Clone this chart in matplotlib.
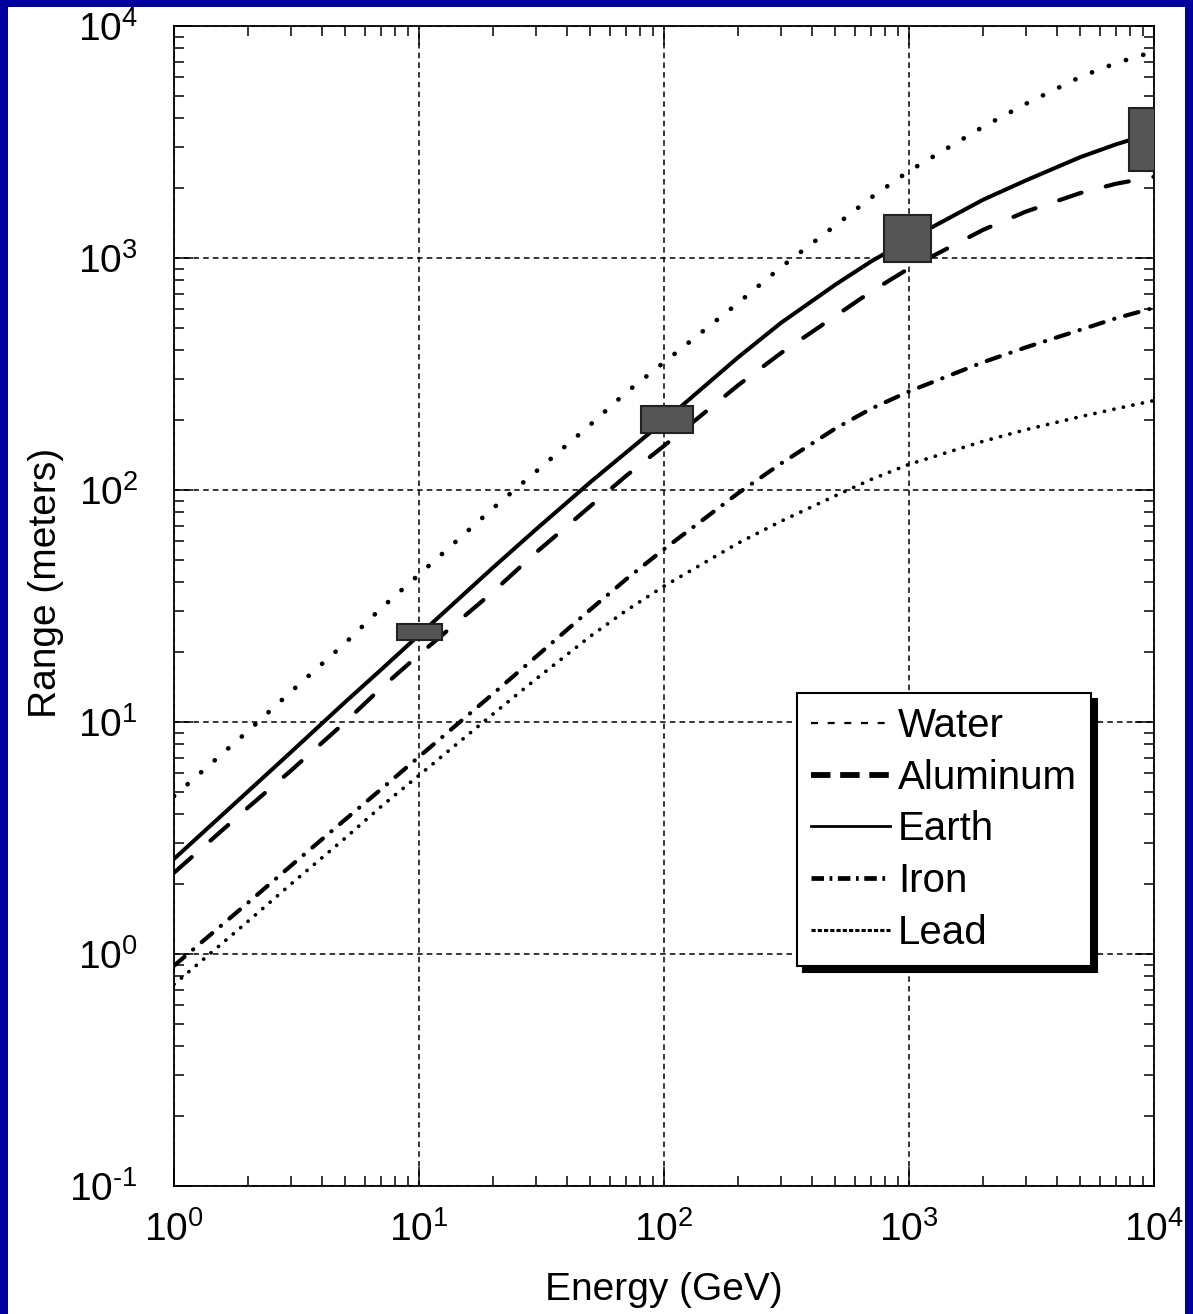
import matplotlib
matplotlib.use("Agg")
import numpy as np
import matplotlib.pyplot as plt
from matplotlib.lines import Line2D
from matplotlib.patches import Rectangle
from matplotlib.ticker import LogLocator, NullFormatter, FuncFormatter

plt.rcParams['font.family'] = ['Liberation Sans', 'DejaVu Sans']
plt.rcParams['mathtext.default'] = 'regular'
plt.rcParams['axes.unicode_minus'] = False
plt.rcParams['lines.scale_dashes'] = False

# muon range vs energy (GeV -> meters)
energy = [1, 2, 3, 5, 7, 10, 20, 30, 50, 70, 100, 200, 300, 500, 700,
          1000, 2000, 3000, 5000, 7000, 10000]
water = [4.79, 9.12, 13.5, 21.9, 30.9, 43.2, 83.2, 120, 191, 263, 355,
         638, 912, 1380, 1820, 2370, 3670, 4620, 6030, 6920, 7760]
aluminum = [2.24, 4.27, 6.17, 10.0, 14.0, 19.5, 36.3, 53.7, 85.1, 115, 155,
            282, 389, 562, 716, 902, 1320, 1585, 1905, 2090, 2240]
earth = [2.57, 5.01, 7.41, 12.2, 16.8, 23.7, 46.2, 67.6, 108, 145, 198,
         372, 525, 767, 966, 1200, 1780, 2160, 2720, 3090, 3470]
iron = [0.89, 1.66, 2.40, 3.80, 5.13, 7.08, 13.2, 19.1, 30.5, 41.2, 55.6,
        96.6, 130, 184, 224, 266, 355, 412, 490, 550, 610]
lead = [0.74, 1.38, 2.0, 3.16, 4.32, 5.89, 10.8, 15.3, 23.4, 30.2, 38.5,
        58.9, 73.3, 94.4, 111, 129, 162, 182, 207, 224, 243]

# measured boxes (energy span x range span)
box_e_lo = [8.1, 80.5, 790, 7900]
box_e_hi = [12.4, 131, 1230, 12600]
box_r_lo = [22.5, 176, 960, 2370]
box_r_hi = [26.4, 230, 1530, 4440]

W, H = 1193, 1314
fig = plt.figure(figsize=(W / 100, H / 100), dpi=100)
fig.patch.set_facecolor('#00009c')
# white page inside the blue frame (open at the bottom)
fig.patches.append(Rectangle((8 / W, 0), (1185 - 8) / W, (1314 - 7) / H,
                             transform=fig.transFigure, facecolor='white',
                             edgecolor='none', zorder=-1))

ax = fig.add_axes([174 / W, 1 - 1186 / H, (1154 - 174) / W, (1186 - 26) / H])
ax.set_xscale('log')
ax.set_yscale('log')
ax.set_xlim(1, 1e4)
ax.set_ylim(0.1, 1e4)

ax.plot(energy, water, color='k', lw=3.4, dashes=(0.1, 12.9),
        dash_capstyle='round', zorder=3)
ax.plot(energy, aluminum, color='k', lw=3.0, dashes=(17, 18),
        dash_capstyle='round', zorder=3)
ax.plot(energy, earth, color='k', lw=2.9, zorder=3)
ax.plot(energy, iron, color='k', lw=3.0, dashes=(10, 8, 0.2, 8),
        dash_capstyle='round', zorder=3)
ax.plot(energy, lead, color='k', lw=2.7, dashes=(0.1, 6.9),
        dash_capstyle='round', zorder=3)

widths = [hi - lo for lo, hi in zip(box_e_lo, box_e_hi)]
heights = [hi - lo for lo, hi in zip(box_r_lo, box_r_hi)]
ax.bar(box_e_lo, heights, width=widths, bottom=box_r_lo, align='edge',
       color='#555555', edgecolor='#222222', linewidth=1.5, zorder=4)


def decade(v, pos):
    exp = int(round(np.log10(v)))
    return r'$\mathregular{10^{%s}}$' % str(exp).replace('-', '\u2010')


ax.grid(True, which='major', color='k', lw=1.1, linestyle=(0, (4, 3)))
ax.xaxis.set_major_formatter(FuncFormatter(decade))
ax.yaxis.set_major_formatter(FuncFormatter(decade))
ax.xaxis.set_minor_locator(LogLocator(base=10, subs=range(2, 10), numticks=20))
ax.yaxis.set_minor_locator(LogLocator(base=10, subs=range(2, 10), numticks=20))
ax.xaxis.set_minor_formatter(NullFormatter())
ax.yaxis.set_minor_formatter(NullFormatter())
ax.tick_params(which='both', direction='in', top=True, right=True, width=1.1)
ax.tick_params(which='major', length=14)
ax.tick_params(which='minor', length=7)
ax.tick_params(axis='x', which='major', labelsize=28, pad=18)
ax.tick_params(axis='y', which='major', labelsize=28, pad=26)
for sp in ax.spines.values():
    sp.set_linewidth(1.3)

ax.set_xlabel('Energy (GeV)', fontsize=28, labelpad=17)
ax.set_ylabel('Range (meters)', fontsize=28)
ax.yaxis.set_label_coords(-0.112, 0.52)

handles = [
    Line2D([], [], color='k', lw=1.6, dashes=(5, 7)),
    Line2D([], [], color='k', lw=4.2, dashes=(14, 7)),
    Line2D([], [], color='k', lw=2.0),
    Line2D([], [], color='k', lw=3.4, dashes=(9, 4, 2, 4)),
    Line2D([], [], color='k', lw=2.2, dashes=(3, 1.5)),
]
labels = ['Water', 'Aluminum', 'Earth', 'Iron', 'Lead']
leg = ax.legend(handles, labels, loc='upper left', bbox_to_anchor=(0.636, 0.425),
                borderaxespad=0, fontsize=29, handlelength=1.95,
                handletextpad=0.2, labelspacing=0.34, borderpad=0.35,
                fancybox=False, edgecolor='k', framealpha=1,
                shadow={'ox': 4, 'oy': -4, 'color': 'k', 'alpha': 1})
leg.get_frame().set_linewidth(1.5)
leg.set_zorder(6)

fig.savefig('out.png', dpi=100, facecolor=fig.get_facecolor())
